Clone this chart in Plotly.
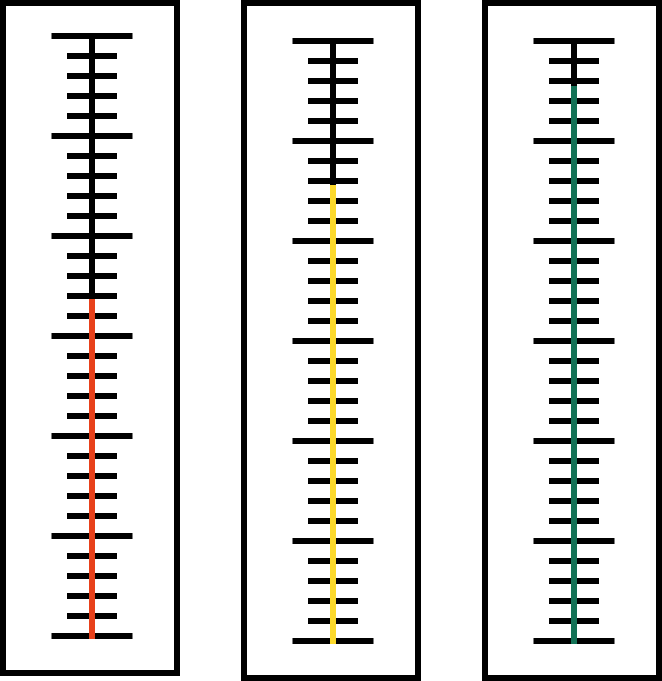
import plotly.graph_objects as go

# ---- data ----
gauges = ["Gauge A", "Gauge B", "Gauge C"]
values = [16.85, 22.8, 27.75]
colors = ["#e8411b", "#fcd92b", "#137256"]

scale_min = 0
scale_max = 30
minor_step = 1
major_every = 5

# ---- layout geometry (paper fractions) ----
W, H = 662, 681
x_domains = [[3 / W, 177 / W], [244 / W, 418 / W], [485 / W, 659 / W]]
y_domains = [[8 / H, 1 - 3 / H], [3 / H, 1 - 3 / H], [3 / H, 1 - 3 / H]]
y_ranges = [[-1.85, 31.65], [-1.85, 31.9], [-1.85, 31.9]]
x_range = [-89 / 40.5, 85 / 40.5]
major_half = 1.0
minor_half = 25 / 40.5
line_w = 6
px_per_unit = 20.0
cap = (line_w / 2) / px_per_unit  # emulate square line cap at the base

fig = go.Figure()

for i, (name, val, col) in enumerate(zip(gauges, values, colors)):
    xa = "x" if i == 0 else f"x{i+1}"
    ya = "y" if i == 0 else f"y{i+1}"
    # tick marks
    tx, ty = [], []
    n = int((scale_max - scale_min) / minor_step)
    for k in range(n + 1):
        v = scale_min + k * minor_step
        h = major_half if k % major_every == 0 else minor_half
        tx += [-h, h, None]
        ty += [v, v, None]
    fig.add_trace(go.Scatter(x=tx, y=ty, mode="lines", xaxis=xa, yaxis=ya,
                             line=dict(color="black", width=line_w),
                             hoverinfo="skip", showlegend=False))
    # spine
    fig.add_trace(go.Scatter(x=[0, 0], y=[scale_min, scale_max], mode="lines",
                             xaxis=xa, yaxis=ya,
                             line=dict(color="black", width=line_w),
                             hoverinfo="skip", showlegend=False))
    # value
    fig.add_trace(go.Scatter(x=[0, 0], y=[scale_min - cap, val], mode="lines",
                             xaxis=xa, yaxis=ya, name=name,
                             line=dict(color=col, width=line_w),
                             showlegend=False))
    ax = dict(domain=x_domains[i], range=x_range, visible=False,
              fixedrange=True, anchor=ya)
    ay = dict(domain=y_domains[i], range=y_ranges[i], visible=False,
              fixedrange=True, anchor=xa)
    fig.layout[("xaxis" if i == 0 else f"xaxis{i+1}")] = ax
    fig.layout[("yaxis" if i == 0 else f"yaxis{i+1}")] = ay
    dom = "x domain" if i == 0 else f"x{i+1} domain"
    domy = "y domain" if i == 0 else f"y{i+1} domain"
    fig.add_shape(type="rect", xref=dom, yref=domy, x0=0, x1=1, y0=0, y1=1,
                  line=dict(color="black", width=line_w), fillcolor="rgba(0,0,0,0)",
                  layer="above")

fig.update_layout(width=W, height=H, margin=dict(l=0, r=0, t=0, b=0),
                  paper_bgcolor="white", plot_bgcolor="white",
                  showlegend=False)

fig.write_html("out.html", config={"displayModeBar": False})
